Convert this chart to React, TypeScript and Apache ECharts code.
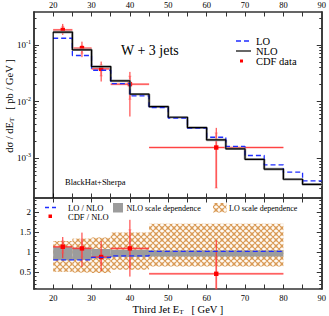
import React, { useEffect, useRef } from "react";
import * as echarts from "echarts";

// ---- top panel: differential cross section (pb/GeV) ----
const binEdges = [20, 25, 30, 35, 40, 45, 50, 55, 60, 65, 70, 75, 80, 85, 90];
const nloValues = [0.168, 0.082, 0.0415, 0.0232, 0.0135, 0.00817, 0.0053, 0.00348, 0.00211, 0.00147, 0.00096, 0.000645, 0.000427, 0.000347];
const loValues = [0.131, 0.065, 0.0357, 0.0208, 0.0126, 0.0078, 0.0051, 0.0034, 0.00235, 0.00162, 0.00112, 0.000765, 0.000569, 0.0004];

const cdfBinLo = [20, 25, 30, 35, 45];
const cdfBinHi = [25, 30, 35, 45, 80];
const cdfCenter = [22.5, 27.5, 32.5, 40, 62.5];
const cdfValues = [0.184, 0.0875, 0.0378, 0.0203, 0.00155];
const cdfTotalLo = [0.15, 0.0607, 0.0226, 0.00545, 0.0003];
const cdfTotalHi = [0.234, 0.114, 0.0508, 0.0334, 0.00344];
const cdfStatLo = [0.163, 0.0714, 0.0284, 0.011, 0.0003];
const cdfStatHi = [0.212, 0.097, 0.0444, 0.028, 0.0028];

// ---- bottom panel: ratios to NLO ----
const ratioBinLo = [20, 25, 30, 35, 45];
const ratioBinHi = [25, 30, 35, 45, 80];
const nloBandLo = [0.79, 0.8, 0.83, 0.87, 0.88];
const nloBandHi = [1.12, 1.1, 1.07, 1.05, 1.03];
const loBandLo = [0.5, 0.48, 0.47, 0.55, 0.63];
const loBandHi = [1.27, 1.33, 1.36, 1.48, 1.7];
const loNloRatio = [0.8, 0.8, 0.86, 0.9, 1.01];
const cdfRatio = [1.125, 1.085, 0.87, 1.085, 0.45];
const cdfRatioTotLo = [0.84, 0.62, 0.52, 0.38, 0.07];
const cdfRatioTotHi = [1.37, 1.48, 1.27, 1.8, 1.29];
const cdfRatioStatLo = [0.97, 0.87, 0.7, 0.62, 0.07];
const cdfRatioStatHi = [1.27, 1.3, 1.05, 1.55, 0.87];

// ---- axis ticks / labels ----
const xLabelValues = [20, 30, 40, 50, 60, 70, 80, 90];
const xTickValues = [20, 25, 30, 35, 40, 45, 50, 55, 60, 65, 70, 75, 80, 85];
const topDecades = [-3, -2, -1];
const ratioMajor = [0.5, 1, 1.5, 2];
const ratioMinor = [0.1, 0.2, 0.3, 0.4, 0.6, 0.7, 0.8, 0.9, 1.1, 1.2, 1.3, 1.4, 1.6, 1.7, 1.8, 1.9, 2.1, 2.2, 2.3];

const X_MIN = 15, X_MAX = 90;
const TOP_MIN = -3.7, TOP_MAX = -0.42;
const R_MIN = 0.07, R_MAX = 2.345;

const FONT = "Liberation Serif";
const AX = "#333";

function logMinorTicks(): number[] {
  const out: number[] = [];
  for (let n = -4; n <= 0; n++) {
    for (let k = 2; k <= 9; k++) {
      const v = Math.log10(k * Math.pow(10, n));
      if (v > TOP_MIN && v < TOP_MAX) out.push(v);
    }
  }
  return out;
}

function stepData(values: number[], edges: number[], tf: (v: number) => number) {
  const d: number[][] = values.map((v, i) => [edges[i], tf(v)]);
  d.push([edges[values.length], tf(values[values.length - 1])]);
  return d;
}

function makeHatch(): string {
  const c = document.createElement("canvas");
  c.width = 6;
  c.height = 6;
  const ctx = c.getContext("2d")!;
  ctx.fillStyle = "#fffaf4";
  ctx.fillRect(0, 0, 6, 6);
  ctx.strokeStyle = "#d99a55";
  ctx.lineWidth = 1.1;
  ctx.beginPath();
  ctx.moveTo(-1, -1); ctx.lineTo(7, 7);
  ctx.moveTo(7, -1); ctx.lineTo(-1, 7);
  ctx.moveTo(2, -1); ctx.lineTo(-1, 2);
  ctx.moveTo(7, 4); ctx.lineTo(4, 7);
  ctx.moveTo(4, -1); ctx.lineTo(7, 2);
  ctx.moveTo(-1, 4); ctx.lineTo(2, 7);
  ctx.stroke();
  return c.toDataURL();
}

export default function App() {
  const ref = useRef<HTMLDivElement>(null);
  useEffect(() => {
    if (!ref.current) return;
    const chart = echarts.init(ref.current, undefined, { renderer: "svg" });
    const hatchUrl = makeHatch();
    const hatch: any = { image: hatchUrl, repeat: "repeat", imageWidth: 6, imageHeight: 6 };
    const lg = (v: number) => Math.log10(v);
    const id = (v: number) => v;

    const grids = [
      { left: 34, top: 12, width: 289, height: 186 },
      { left: 34, top: 198, width: 289, height: 91 },
    ];

    const axLine = { show: true, lineStyle: { color: AX, width: 1.5 } };
    const tickStyle = { color: AX, width: 1 };
    const xAxisBase = (grid: number, pos: string, labels: boolean) => ({
      type: "value", gridIndex: grid, position: pos, min: X_MIN, max: X_MAX,
      axisLine: axLine,
      axisTick: { show: true, inside: true, length: 4.5, customValues: xTickValues, lineStyle: tickStyle },
      axisLabel: {
        show: labels, customValues: xLabelValues, fontFamily: FONT, fontSize: 8.5, color: "#000",
        margin: pos === "top" ? 3 : 4,
      },
      splitLine: { show: false },
    });
    const yAxisBase = (grid: number, pos: string, min: number, max: number, ticks: number[], len: number, labels: boolean, fmt?: any) => ({
      type: "value", gridIndex: grid, position: pos, min, max,
      axisLine: axLine,
      axisTick: { show: true, inside: true, length: len, customValues: ticks, lineStyle: tickStyle },
      axisLabel: labels
        ? {
            show: true, customValues: ticks, fontFamily: FONT, fontSize: 9, color: "#000", margin: 3,
            formatter: fmt,
            rich: {
              b: { fontFamily: FONT, fontSize: 9, color: "#000" },
              s: { fontFamily: FONT, fontSize: 6, color: "#000", padding: [0, 0, 6, 0] },
            },
          }
        : { show: false },
      splitLine: { show: false },
    });

    const minorTop = logMinorTicks();
    const expFmt = (v: number) => `{b|10}{s|${Math.round(v)}}`;

    const errorRender = (params: any, api: any) => {
      const xc = api.value(0), xl = api.value(1), xh = api.value(2), y = api.value(3);
      const tl = api.value(4), th = api.value(5), sl = api.value(6), sh = api.value(7);
      const pC = api.coord([xc, y]);
      const pL = api.coord([xl, y]);
      const pH = api.coord([xh, y]);
      const pTl = api.coord([xc, tl]);
      const pTh = api.coord([xc, th]);
      const pSl = api.coord([xc, sl]);
      const pSh = api.coord([xc, sh]);
      const red = "#ff2a2a";
      const light = "rgba(255,80,80,0.5)";
      return {
        type: "group",
        children: [
          { type: "line", shape: { x1: pL[0], y1: pL[1], x2: pH[0], y2: pH[1] }, style: { stroke: light, lineWidth: 2 } },
          { type: "line", shape: { x1: pL[0], y1: pL[1], x2: pH[0], y2: pH[1] }, style: { stroke: red, lineWidth: 0.8 } },
          { type: "line", shape: { x1: pTl[0], y1: pTl[1], x2: pTh[0], y2: pTh[1] }, style: { stroke: red, lineWidth: 1 } },
          { type: "line", shape: { x1: pSl[0], y1: pSl[1], x2: pSh[0], y2: pSh[1] }, style: { stroke: light, lineWidth: 2 } },
          { type: "line", shape: { x1: pSl[0] - 1.5, y1: pSl[1], x2: pSl[0] + 1.5, y2: pSl[1] }, style: { stroke: light, lineWidth: 1 } },
          { type: "line", shape: { x1: pSh[0] - 1.5, y1: pSh[1], x2: pSh[0] + 1.5, y2: pSh[1] }, style: { stroke: light, lineWidth: 1 } },
          { type: "rect", shape: { x: pC[0] - 2.2, y: pC[1] - 2.2, width: 4.4, height: 4.4 }, style: { fill: "#ff0000" } },
        ],
      };
    };

    const bandRender = (fill: any) => (params: any, api: any) => {
      const p0 = api.coord([api.value(0), api.value(3)]);
      const p1 = api.coord([api.value(1), api.value(2)]);
      return {
        type: "rect",
        shape: { x: p0[0], y: p0[1], width: p1[0] - p0[0], height: p1[1] - p0[1] },
        style: { fill },
      };
    };

    const cdfTop = cdfCenter.map((c, i) => [c, cdfBinLo[i], cdfBinHi[i], lg(cdfValues[i]), lg(cdfTotalLo[i]), lg(cdfTotalHi[i]), lg(cdfStatLo[i]), lg(cdfStatHi[i])]);
    const cdfBottom = cdfCenter.map((c, i) => [c, cdfBinLo[i], cdfBinHi[i], cdfRatio[i], cdfRatioTotLo[i], cdfRatioTotHi[i], cdfRatioStatLo[i], cdfRatioStatHi[i]]);
    const nloBand = ratioBinLo.map((x, i) => [x, ratioBinHi[i], nloBandLo[i], nloBandHi[i]]);
    const loBand = ratioBinLo.map((x, i) => [x, ratioBinHi[i], loBandLo[i], loBandHi[i]]);

    const nloStep = stepData(nloValues, binEdges, lg);
    const nloWithEdge = [[binEdges[0], TOP_MIN], ...nloStep];
    const loStep = stepData(loValues, binEdges, lg);
    const ratioEdges = [...ratioBinLo, ratioBinHi[ratioBinHi.length - 1]];
    const loNloStep = stepData(loNloRatio, ratioEdges, id);

    const t = (x: number, y: number, text: string, size: number, extra: any = {}) => ({
      type: "text", x, y, silent: true,
      style: { text, fontFamily: FONT, fontSize: size, fill: "#000", textVerticalAlign: "middle", ...extra },
    });

    chart.setOption({
      animation: false,
      backgroundColor: "#fff",
      grid: grids,
      xAxis: [
        xAxisBase(0, "bottom", false),
        xAxisBase(0, "top", true),
        xAxisBase(1, "bottom", true),
        xAxisBase(1, "top", false),
      ],
      yAxis: [
        yAxisBase(0, "left", TOP_MIN, TOP_MAX, topDecades, 5, true, expFmt),
        yAxisBase(0, "left", TOP_MIN, TOP_MAX, minorTop, 2.5, false),
        yAxisBase(0, "right", TOP_MIN, TOP_MAX, topDecades, 5, false),
        yAxisBase(0, "right", TOP_MIN, TOP_MAX, minorTop, 2.5, false),
        yAxisBase(1, "left", R_MIN, R_MAX, ratioMajor, 5, true, (v: number) => `{b|${v}}`),
        yAxisBase(1, "left", R_MIN, R_MAX, ratioMinor, 2.5, false),
        yAxisBase(1, "right", R_MIN, R_MAX, ratioMajor, 5, false),
        yAxisBase(1, "right", R_MIN, R_MAX, ratioMinor, 2.5, false),
      ],
      series: [
        // top panel
        { type: "line", name: "NLO band", xAxisIndex: 0, yAxisIndex: 0, step: "end", data: nloStep, symbol: "none",
          lineStyle: { color: "#a8a8a8", width: 2.6 }, silent: true },
        { type: "line", name: "LO", xAxisIndex: 0, yAxisIndex: 0, step: "end", data: loStep, symbol: "none",
          lineStyle: { color: "#1f2dff", width: 1.3, type: [5, 3] }, silent: true },
        { type: "line", name: "NLO", xAxisIndex: 0, yAxisIndex: 0, step: "end", data: nloWithEdge, symbol: "none",
          lineStyle: { color: "#000", width: 1.2 }, silent: true },
        { type: "custom", name: "CDF data", xAxisIndex: 0, yAxisIndex: 0, data: cdfTop, renderItem: errorRender, silent: true },
        // bottom panel
        { type: "custom", name: "LO scale", xAxisIndex: 2, yAxisIndex: 4, data: loBand, renderItem: bandRender(hatch), silent: true },
        { type: "custom", name: "NLO scale", xAxisIndex: 2, yAxisIndex: 4, data: nloBand, renderItem: bandRender("#9c9c9c"), silent: true },
        { type: "line", name: "LO/NLO", xAxisIndex: 2, yAxisIndex: 4, step: "end", data: loNloStep, symbol: "none",
          lineStyle: { color: "#1f2dff", width: 1.3, type: [5, 3] }, silent: true },
        { type: "custom", name: "CDF/NLO", xAxisIndex: 2, yAxisIndex: 4, data: cdfBottom, renderItem: errorRender, silent: true },
      ],
      graphic: [
        // top legend
        { type: "line", shape: { x1: 236, y1: 41, x2: 251, y2: 41 }, style: { stroke: "#1f2dff", lineWidth: 1.3, lineDash: [5, 3] } },
        t(256, 41, "LO", 10.5),
        { type: "line", shape: { x1: 236, y1: 51, x2: 251, y2: 51 }, style: { stroke: "#000", lineWidth: 1.2 } },
        t(256, 51, "NLO", 10.5),
        { type: "rect", shape: { x: 240, y: 59.5, width: 3, height: 3 }, style: { fill: "#ff0000" } },
        t(256, 61.5, "CDF data", 10.5),
        t(121, 50, "W + 3 jets", 14),
        t(65, 182, "BlackHat+Sherpa", 8.5),
        // bottom legend
        { type: "line", shape: { x1: 45, y1: 207.5, x2: 59, y2: 207.5 }, style: { stroke: "#1f2dff", lineWidth: 1.3, lineDash: [4, 3] } },
        t(68, 207.5, "LO / NLO", 8.5),
        { type: "rect", shape: { x: 48.5, y: 214.5, width: 3.5, height: 3.5 }, style: { fill: "#ff0000" } },
        t(68, 217, "CDF / NLO", 8.5),
        { type: "rect", shape: { x: 113, y: 203, width: 10, height: 9.5 }, style: { fill: "#9c9c9c" } },
        t(126.5, 208, "NLO scale dependence", 8),
        { type: "rect", shape: { x: 213, y: 203, width: 13.5, height: 9.5 }, style: { fill: hatch } },
        t(229, 208, "LO scale dependence", 8),
        // axis titles
        {
          type: "text", x: 9, y: 106, rotation: Math.PI / 2, silent: true,
          style: {
            text: "{a|dσ / dE}{s|T}{a|   [ pb / GeV ]}", textAlign: "center", textVerticalAlign: "middle",
            rich: {
              a: { fontFamily: FONT, fontSize: 10.5, fill: "#000", lineHeight: 12 },
              s: { fontFamily: FONT, fontSize: 7, fill: "#000", lineHeight: 12, padding: [5, 0, 0, 0] },
            },
          },
        },
        {
          type: "text", x: 178, y: 309.5, silent: true,
          style: {
            text: "{a|Third Jet E}{s|T}{a|   [ GeV ]}", textAlign: "center", textVerticalAlign: "middle",
            rich: {
              a: { fontFamily: FONT, fontSize: 10.5, fill: "#000", lineHeight: 11 },
              s: { fontFamily: FONT, fontSize: 7, fill: "#000", lineHeight: 11, padding: [4, 0, 0, 0] },
            },
          },
        },
      ],
    });
    return () => chart.dispose();
  }, []);
  return <div ref={ref} style={{ width: 329, height: 316, position: "absolute", left: 0, top: 0 }} />;
}
